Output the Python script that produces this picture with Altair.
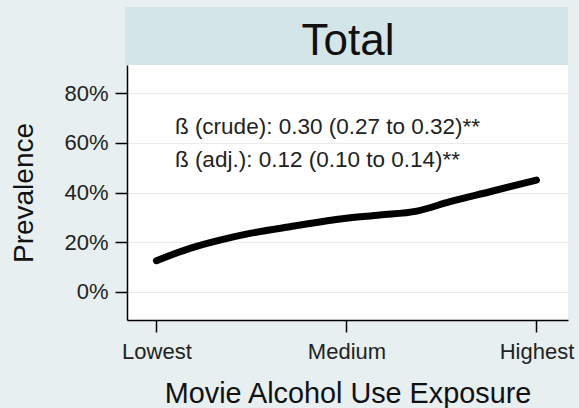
import altair as alt
import pandas as pd

# Smoothed prevalence by level of movie alcohol-use exposure (0 = lowest, 2 = highest)
exposure = [0.0, 0.176, 0.334, 0.492, 0.703, 1.0, 1.176, 1.37, 1.545, 1.755, 2.0]
prevalence = [0.125, 0.175, 0.208, 0.235, 0.262, 0.296, 0.309, 0.325, 0.363, 0.403, 0.450]

# Axis ticks
x_tick_values = [0, 1, 2]
x_tick_labels = ["Lowest", "Medium", "Highest"]
y_tick_values = [0.0, 0.2, 0.4, 0.6, 0.8]

# Panel header and regression annotations
panel_title = "Total"
note_lines = ["ß (crude): 0.30 (0.27 to 0.32)**", "ß (adj.): 0.12 (0.10 to 0.14)**"]
note_x = [0.097, 0.097]
note_y = [0.665, 0.531]

FONT = "Liberation Sans"
W, H = 441, 255
BG = "#e7eff1"
HEADER_BG = "#d4e5e9"

curve = pd.DataFrame({"exposure": exposure, "prevalence": prevalence})
notes = pd.DataFrame({"x": note_x, "y": note_y, "label": note_lines})
header = pd.DataFrame({"label": [panel_title]})

x_scale = alt.Scale(domain=[-0.155, 2.166], nice=False, zero=False)
y_scale = alt.Scale(domain=[-0.114, 0.914], nice=False, zero=False)

label_expr = "[" + ",".join(f"'{t}'" for t in x_tick_labels) + "][datum.value]"

x_axis = alt.Axis(
    values=x_tick_values,
    labelExpr=label_expr,
    title="Movie Alcohol Use Exposure",
    grid=False,
    tickSize=12,
    tickWidth=1.5,
    tickColor="black",
    domainColor="black",
    domainWidth=1.5,
    labelFont=FONT,
    labelFontSize=22,
    labelColor="#222222",
    labelPadding=9,
    labelFlush=False,
    titleFont=FONT,
    titleFontSize=28.8,
    titleFontWeight="normal",
    titleColor="#111111",
    titlePadding=17,
)

y_axis = alt.Axis(
    values=y_tick_values,
    format=".0%",
    title="Prevalence",
    grid=True,
    gridColor="#ebebeb",
    gridWidth=1,
    tickSize=12,
    tickWidth=1.5,
    tickColor="black",
    domainColor="black",
    domainWidth=1.5,
    labelFont=FONT,
    labelFontSize=22,
    labelColor="#222222",
    labelPadding=7,
    titleFont=FONT,
    titleFontSize=28,
    titleFontWeight="normal",
    titleColor="#111111",
    titlePadding=25,
)

line = alt.Chart(curve).mark_line(
    color="black", strokeWidth=7, strokeCap="round", interpolate="monotone"
).encode(
    x=alt.X("exposure:Q", scale=x_scale, axis=x_axis),
    y=alt.Y("prevalence:Q", scale=y_scale, axis=y_axis),
)

text = alt.Chart(notes).mark_text(
    align="left", baseline="middle", font=FONT, fontSize=22.5, color="#222222"
).encode(
    x=alt.X("x:Q", scale=x_scale),
    y=alt.Y("y:Q", scale=y_scale),
    text="label:N",
)

# Shaded strip above the plot carrying the panel name
strip = alt.Chart(header).mark_rect(color=HEADER_BG).encode(
    x=alt.value(-2), x2=alt.value(W), y=alt.value(-58), y2=alt.value(0)
)
strip_text = alt.Chart(header).mark_text(
    align="center", baseline="alphabetic", font=FONT, fontSize=44, color="#111111"
).encode(x=alt.value(221), y=alt.value(-10), text="label:N")

chart = alt.layer(strip, strip_text, line, text).properties(
    width=W,
    height=H,
    padding={"left": 127, "top": 65, "right": 11, "bottom": 88},
    autosize=alt.AutoSizeParams(type="none"),
    background=BG,
).configure_view(stroke=None, fill="white")

chart.save("out.html", embed_options={"renderer": "svg", "actions": False})
